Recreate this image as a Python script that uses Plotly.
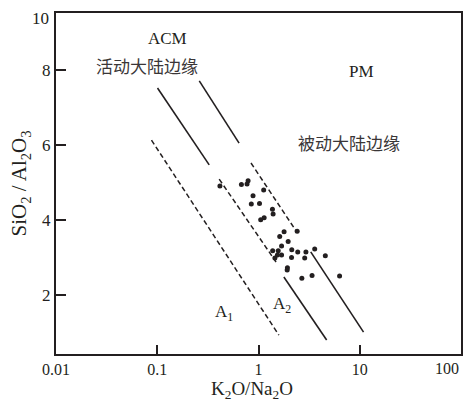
import plotly.graph_objects as go

# ---- data (x = K2O/Na2O, y = SiO2/Al2O3) ----
sample_x = [0.416, 0.678, 0.771, 0.789, 0.883, 1.125, 0.849, 1.023, 1.373, 1.394,
            1.051, 1.137, 1.789, 1.62, 2.41, 1.963, 1.69, 1.38, 1.566, 2.13,
            2.44, 2.94, 3.59, 1.538, 1.69, 1.452, 2.12, 2.86, 4.57, 1.93,
            1.92, 2.68, 3.38, 6.32]
sample_y = [4.91, 4.95, 4.96, 5.05, 4.65, 4.80, 4.43, 4.44, 4.29, 4.16,
            4.01, 4.06, 3.69, 3.56, 3.70, 3.43, 3.31, 3.18, 3.18, 3.21,
            3.15, 3.15, 3.23, 3.07, 3.07, 2.99, 3.00, 2.99, 3.05, 2.73,
            2.67, 2.45, 2.52, 2.51]

# boundary lines (None = gap)
solid1_x = [0.1006, 0.326, None, 1.78, 4.71]
solid1_y = [7.52, 5.47, None, 2.48, 0.80]
solid2_x = [0.26, 0.643, None, 3.28, 10.9]
solid2_y = [7.71, 6.05, None, 3.15, 1.01]
dashA1_x = [0.0877, 1.59]
dashA1_y = [6.13, 0.93]
dashA2a_x = [0.409, 1.49]
dashA2a_y = [5.09, 2.88]
dashA2b_x = [0.843, 2.39]
dashA2b_y = [5.52, 3.68]

x_tickvals = [0.01, 0.1, 1, 10]
x_ticktext = ["0.01", "0.1", "1", "10"]
y_tickvals = [2, 4, 6, 8]
y_ticktext = ["2", "4", "6", "8"]

INK = "#231f20"
SERIF = "Liberation Serif, Noto Sans CJK SC, serif"
CJK = "Noto Sans CJK SC, serif"

fig = go.Figure()
for xs, ys in [(solid1_x, solid1_y), (solid2_x, solid2_y)]:
    fig.add_trace(go.Scatter(x=xs, y=ys, mode="lines", connectgaps=False,
                             line=dict(color=INK, width=1.6), hoverinfo="skip"))
for xs, ys in [(dashA1_x, dashA1_y), (dashA2a_x, dashA2a_y), (dashA2b_x, dashA2b_y)]:
    fig.add_trace(go.Scatter(x=xs, y=ys, mode="lines",
                             line=dict(color=INK, width=1.5, dash="5px,3px"), hoverinfo="skip"))
fig.add_trace(go.Scatter(x=sample_x, y=sample_y, mode="markers",
                         marker=dict(color=INK, size=5)))

ann = []
def add_text(x, y, text, size=17, family=SERIF, color=INK, **kw):
    d = dict(x=x, y=y, text=text, showarrow=False, font=dict(family=family, size=size, color=color))
    d.update(kw)
    ann.append(d)

add_text(-0.899, 8.85, "ACM")
add_text(-1.106, 8.13, "活动大陆边缘", size=17, family=CJK, color="#3a3637")
add_text(1.017, 7.95, "PM")
add_text(0.889, 6.08, "被动大陆边缘", size=17, family=CJK, color="#3a3637")
add_text(-0.339, 1.52, "A<sub>1</sub>")
add_text(0.231, 1.73, "A<sub>2</sub>")

# corner tick labels and axis titles
ann.append(dict(x=0, y=1, xref="paper", yref="paper", xanchor="right", yanchor="middle",
                xshift=-5, yshift=-5, text="10", showarrow=False,
                font=dict(family=SERIF, size=17, color=INK)))
ann.append(dict(x=1, y=0, xref="paper", yref="paper", xanchor="right", yanchor="top",
                yshift=-4, text="100", showarrow=False,
                font=dict(family=SERIF, size=16, color=INK)))
ann.append(dict(x=-0.089, y=0.5, xref="paper", yref="paper", xanchor="center", yanchor="middle",
                text="SiO<sub>2</sub> / Al<sub>2</sub>O<sub>3</sub>", textangle=-90, showarrow=False,
                font=dict(family=SERIF, size=21, color=INK)))
ann.append(dict(x=0.484, y=-0.105, xref="paper", yref="paper", xanchor="center", yanchor="middle",
                text="K<sub>2</sub>O/Na<sub>2</sub>O", showarrow=False,
                font=dict(family=SERIF, size=19, color=INK)))

fig.update_layout(
    width=467, height=404,
    margin=dict(l=56, r=4, t=13, b=50),
    paper_bgcolor="white", plot_bgcolor="white",
    showlegend=False,
    annotations=ann,
    xaxis=dict(type="log", range=[-2, 2], showgrid=False, zeroline=False,
               showline=True, mirror=True, linecolor=INK, linewidth=2,
               ticks="inside", ticklen=9, tickwidth=1.5, tickcolor=INK,
               tickvals=x_tickvals, ticktext=x_ticktext,
               tickfont=dict(family=SERIF, size=16, color=INK)),
    yaxis=dict(range=[0.427, 9.52], showgrid=False, zeroline=False,
               showline=True, mirror=True, linecolor=INK, linewidth=2,
               ticks="inside", ticklen=10, tickwidth=1.5, tickcolor=INK,
               tickvals=y_tickvals, ticktext=y_ticktext,
               tickfont=dict(family=SERIF, size=17, color=INK)),
)

fig.write_html("out.html", config={"displayModeBar": False},
               post_script="document.body.style.margin='0px';")
